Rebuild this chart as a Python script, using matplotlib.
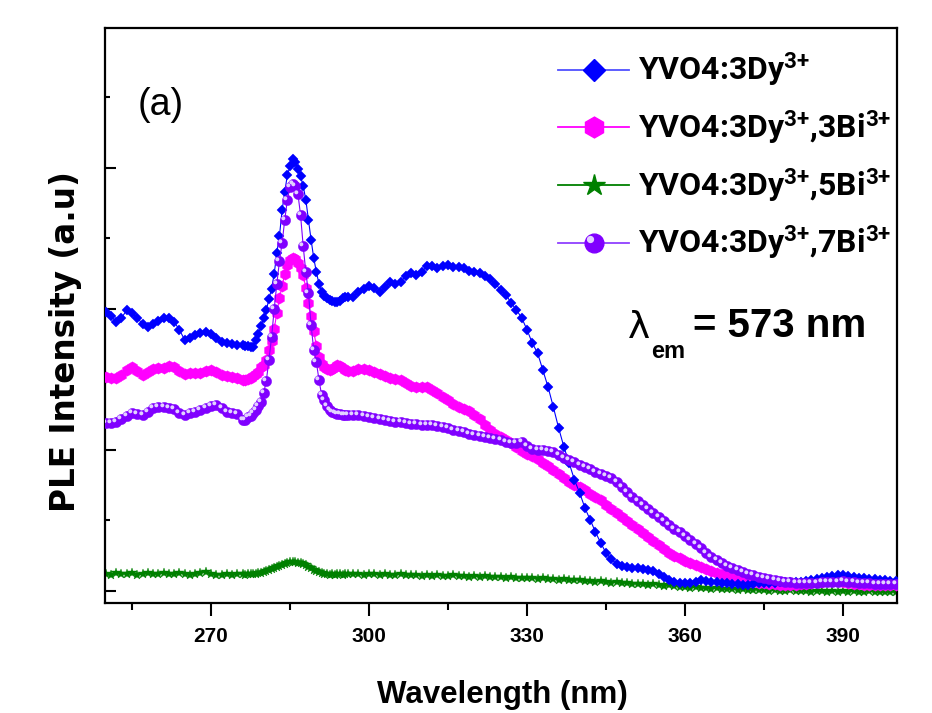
import numpy as np
import matplotlib
matplotlib.use("Agg")
import matplotlib.pyplot as plt
from matplotlib import font_manager as fm
from matplotlib.font_manager import FontProperties
from matplotlib.lines import Line2D
from matplotlib.path import Path
from matplotlib.legend_handler import HandlerTuple
from matplotlib.ticker import FixedLocator

# ---------------- data ----------------
wavelength = np.concatenate([np.arange(250, 276), np.arange(276, 296.5, 0.5), np.arange(297, 401)])

dy3 = [98.9, 97.5, 95.4, 96.8, 99.6, 98.6, 96.8, 94.7, 93.6, 94.7, 95.7, 96.8, 96.8, 95.4, 92.6, 89.0,
       89.7, 90.8, 91.5, 91.8, 91.1, 89.7, 88.3, 87.9, 87.6, 87.2,
       87.2, 87.0, 86.9, 86.6, 86.5, 89.0, 91.1, 94.0, 96.8, 99.6,
       103.5, 107.2, 112.5, 120.0, 126.0, 135.0, 141.5, 147.5, 150.5, 153.0,
       152.0, 149.5, 147.0, 143.6, 138.7, 131.6, 124.5, 118.1, 113.1, 108.9,
       106.0, 104.6, 103.9, 103.2, 102.8, 102.5, 102.5, 102.8, 103.9, 104.3, 104.3,
       104.3, 106.0, 107.1, 108.2, 107.4, 106.0, 107.8, 109.6, 108.9, 109.6,
       111.7, 112.8, 112.1, 113.1, 115.2, 115.2, 114.5, 115.2, 115.6, 114.9,
       114.9, 114.5, 113.5, 113.1, 112.8, 111.7, 110.6, 108.9, 106.7, 105.0,
       102.1, 99.6, 96.8, 92.6, 87.9, 84.4, 78.4, 72.3, 65.2, 57.8,
       51.1, 45.4, 39.4, 34.8, 29.4, 25.2, 20.9, 17.0, 13.5, 11.3,
       9.6, 8.9, 8.5, 8.2, 8.2, 7.8, 7.4, 7.1, 6.0, 5.0,
       3.9, 3.2, 2.8, 2.8, 2.8, 3.2, 3.9, 3.5, 3.2, 3.2,
       2.8, 2.8, 2.5, 2.5, 2.1, 2.1, 2.5, 2.8, 2.8, 2.8,
       2.8, 3.2, 3.2, 3.2, 3.2, 3.2, 3.5, 3.9, 4.3, 4.6,
       5.0, 5.3, 5.7, 5.7, 5.3, 5.0, 4.6, 4.6, 4.3, 4.3,
       3.9, 3.9, 3.5, 3.5]

dy3_bi3 = [75.9, 75.5, 75.5, 76.6, 78.4, 79.4, 78.0, 76.6, 77.7, 78.7, 79.1, 79.1, 79.8, 79.4, 78.0, 77.0,
           77.3, 77.3, 77.3, 78.0, 78.4, 77.7, 76.6, 76.2, 75.9, 75.5,
           74.8, 74.8, 75.2, 75.5, 76.2, 77.0, 77.7, 79.4, 80.2, 82.0,
           85.5, 88.5, 93.0, 98.5, 104.0, 108.0, 112.5, 115.5, 117.5, 118.1,
           117.7, 116.3, 114.5, 112.0, 107.5, 102.0, 97.5, 92.0, 87.0, 83.0,
           80.5, 79.5, 78.8, 78.5, 78.7, 79.4, 80.1, 79.8, 79.1, 78.4, 78.0,
           78.0, 78.7, 78.7, 78.4, 77.7, 77.0, 76.2, 75.5, 75.2, 74.8,
           73.8, 72.7, 72.3, 72.3, 72.3, 71.3, 70.2, 68.8, 67.7, 66.3,
           65.2, 64.5, 63.8, 62.4, 61.0, 58.9, 57.1, 55.7, 54.6, 53.5,
           52.5, 51.1, 49.6, 48.6, 47.9, 46.8, 45.4, 44.3, 42.9, 41.5,
           40.1, 38.7, 37.6, 36.9, 35.8, 34.4, 33.3, 32.3, 30.5, 29.1,
           27.7, 26.2, 24.8, 23.4, 22.0, 20.6, 19.1, 17.7, 16.3, 14.9,
           13.5, 12.4, 11.7, 10.6, 9.9, 9.2, 8.5, 7.8, 7.1, 6.4,
           6.0, 5.3, 5.0, 4.3, 3.9, 3.5, 3.2, 2.8, 2.8,
           2.5, 2.5, 2.1, 2.1, 2.1, 2.1, 2.5, 2.5, 2.8, 3.2,
           3.2, 3.5, 3.5, 3.5, 3.2, 2.8, 2.5, 2.5, 2.1, 2.1,
           2.1, 2.1, 2.1, 2.1, 2.1]

dy3_bi5 = [6.0, 5.7, 6.4, 6.0, 6.0, 6.4, 5.7, 6.0, 6.4, 6.0, 6.0, 6.4, 6.0, 6.0, 6.4, 6.0,
           5.7, 6.0, 6.4, 6.7, 6.0, 5.7, 5.7, 6.0, 5.7, 6.0,
           6.0, 5.7, 6.0, 6.0, 6.0, 6.0, 6.4, 6.4, 6.7, 7.1,
           7.4, 7.8, 8.2, 8.5, 8.9, 9.2, 9.6, 9.9, 10.3, 10.3,
           10.3, 9.9, 9.9, 9.6, 9.2, 8.5, 8.2, 7.4, 7.1, 6.7,
           6.4, 6.0, 6.0, 5.7, 6.0, 5.7, 6.0, 6.0, 5.7, 6.0, 6.0,
           6.0, 6.0, 5.7, 6.0, 6.0, 5.7, 6.0, 5.7, 5.7, 6.0, 5.7, 5.7, 5.7, 5.3,
           5.7, 5.3, 5.7, 5.3, 5.3, 5.7, 5.3, 5.3, 5.0, 5.3,
           5.0, 5.3, 5.0, 5.0, 5.0, 4.6, 5.0, 4.6, 4.6, 4.6,
           4.6, 4.3, 4.6, 4.3, 4.3, 3.9, 4.3, 3.9, 3.9, 3.9,
           3.5, 3.5, 3.2, 3.5, 3.2, 2.8, 3.2, 2.8, 2.8, 2.5,
           2.5, 2.5, 2.1, 2.5, 2.1, 1.8, 2.1, 1.8, 1.4, 1.4,
           1.1, 1.4, 1.1, 1.1, 0.7, 1.1, 0.7, 0.7, 0.7, 0.4,
           0.7, 0.4, 0.4, 0.4, 0.4, 0.0, 0.4, 0.0, 0.0, 0.4,
           0.0, 0.0, 0.0, -0.4, 0.0, 0.0, -0.4, 0.0, -0.4, 0.0,
           -0.4, 0.0, -0.4, -0.4, 0.0, -0.4, -0.4, -0.4, -0.4, -0.4]

dy3_bi7 = [59.6, 59.6, 59.9, 61.0, 62.1, 63.1, 62.8, 62.4, 63.5, 64.9, 65.2, 65.2, 64.9, 64.5, 63.1, 62.4,
           63.1, 63.5, 64.2, 64.9, 65.6, 66.0, 64.9, 63.5, 63.1, 62.8,
           60.6, 60.6, 61.7, 62.1, 63.1, 64.2, 65.6, 67.0, 70.2, 74.5,
           82.0, 90.0, 100.0, 109.0, 117.0, 123.4, 131.6, 138.7, 143.3, 144.3,
           143.6, 140.8, 133.3, 122.3, 113.1, 105.7, 94.3, 85.5, 81.2, 74.8,
           69.5, 67.7, 65.6, 64.2, 63.5, 63.1, 62.8, 62.8, 62.4, 62.4, 62.4,
           62.4, 62.4, 62.1, 61.7, 61.3, 61.0, 60.6, 60.3, 59.9, 59.9,
           59.6, 59.2, 59.2, 58.9, 58.9, 58.9, 58.5, 58.2, 57.8, 57.1,
           56.7, 56.4, 55.7, 55.3, 55.0, 54.6, 54.3, 53.9, 53.5, 52.8,
           52.5, 52.5, 52.8, 51.4, 50.4, 50.0, 50.0, 49.6, 49.3, 48.2,
           47.2, 46.5, 45.7, 44.7, 44.0, 43.3, 42.2, 41.5, 40.8, 40.1,
           38.7, 36.9, 35.1, 33.3, 31.9, 30.5, 29.1, 27.7, 26.2, 24.8,
           23.4, 22.0, 20.9, 19.5, 18.1, 16.7, 15.2, 13.5, 12.1, 11.0,
           9.9, 8.9, 8.2, 7.4, 6.7, 6.0, 5.7, 5.0, 4.6, 4.3,
           3.9, 3.5, 3.2, 3.2,
           2.8, 2.8, 2.8, 2.8, 2.8, 3.2, 3.2, 3.2, 3.2, 3.5,
           3.2, 3.2, 2.8, 2.8, 2.8, 2.5, 2.5, 2.5, 2.5, 2.5]

labels = [r'YVO4:3Dy$^{3{+}}$',
          r'YVO4:3Dy$^{3{+}}$,3Bi$^{3{+}}$',
          r'YVO4:3Dy$^{3{+}}$,5Bi$^{3{+}}$',
          r'YVO4:3Dy$^{3{+}}$,7Bi$^{3{+}}$']
x_major = [270, 300, 330, 360, 390]
x_minor = [255, 285, 315, 345, 375]
x_ticklabels = ['270', '300', '330', '360', '390']
y_major = [0, 50, 100, 150]
y_minor = [25, 75, 125, 175]

# ---------------- fonts ----------------
avail = {f.name for f in fm.fontManager.ttflist}
NARROW = 'Liberation Sans Narrow' in avail
if NARROW:
    lfam, lsize, lspace = 'Liberation Sans Narrow', 27, 0.3
elif 'Roboto' in avail:
    lfam, lsize, lspace = 'Roboto', 23, 0.6
else:
    lfam, lsize, lspace = 'Liberation Sans', 20.8, 0.75
tfam = 'Liberation Sans Narrow' if NARROW else 'Liberation Sans'

plt.rcParams['mathtext.fontset'] = 'custom'
plt.rcParams['mathtext.rm'] = lfam + ':bold'
plt.rcParams['mathtext.bf'] = lfam + ':bold'
plt.rcParams['mathtext.it'] = lfam + ':bold'
plt.rcParams['mathtext.default'] = 'bf'

W, H = 932, 713
fig = plt.figure(figsize=(W / 100, H / 100), dpi=100)
ax = fig.add_axes([105 / W, 1 - 603 / H, 792 / W, 575 / H])

BLUE = '#0000ff'
MAG = '#ff00ff'
GREEN = '#008000'
PURP = '#8000ff'
HL = '#e2d2ff'

# highlight marker: small circle offset to upper left (glossy sphere look)
t = np.linspace(0, 2 * np.pi, 40)
hl_path = Path(np.column_stack([-0.22 + 0.2 * np.cos(t), 0.22 + 0.2 * np.sin(t)]))

ax.plot(wavelength, dy3_bi5, color=GREEN, lw=0.8, marker='*', ms=7.5, mec=GREEN, mfc=GREEN, mew=0.3, zorder=2)
ax.plot(wavelength, dy3_bi3, color=MAG, lw=0.8, marker='h', ms=8.2, mec=MAG, mfc=MAG, mew=0.3, zorder=3)
ax.plot(wavelength, dy3, color=BLUE, lw=0.8, marker='D', ms=5.6, mec=BLUE, mfc=BLUE, mew=0.3, zorder=4)
ax.plot(wavelength, dy3_bi7, color=PURP, lw=0.8, marker='o', ms=7.4, mec=PURP, mfc=PURP, mew=0.3, zorder=5)
ax.plot(wavelength, dy3_bi7, ls='none', marker=hl_path, ms=6, mec='none', mfc=HL, zorder=6)

ax.set_xlim(249.87, 400.25)
ax.set_ylim(-4.26, 199.6)

for s in ax.spines.values():
    s.set_linewidth(1.6)

ax.xaxis.set_major_locator(FixedLocator(x_major))
ax.xaxis.set_minor_locator(FixedLocator(x_minor))
ax.yaxis.set_major_locator(FixedLocator(y_major))
ax.yaxis.set_minor_locator(FixedLocator(y_minor))
tick_fp = FontProperties(family=tfam, weight='bold', size=17 if NARROW else 15)
ax.set_xticks(x_major)
ax.set_xticklabels(x_ticklabels, fontproperties=tick_fp)
ax.tick_params(axis='x', which='major', direction='out', length=9.5, width=1.5, pad=7.5, top=False)
ax.tick_params(axis='x', which='minor', direction='out', length=5, width=1.5, top=False)
ax.tick_params(axis='y', which='major', direction='in', length=8, width=1.5, labelleft=False, right=False)
ax.tick_params(axis='y', which='minor', direction='in', length=3.6, width=1.5, right=False)

ax.set_xlabel('Wavelength (nm)', fontfamily='Liberation Sans', fontweight='bold', fontsize=22.5)
ax.xaxis.label.set_va('baseline')
ax.xaxis.set_label_coords(0.502, -0.174)
ax.set_ylabel('PLE Intensity (a.u)', fontfamily='DejaVu Sans', fontweight='bold', fontsize=23.5)
ax.yaxis.label.set_va('center')
ax.yaxis.set_label_coords(-0.0505, 0.455)

# annotations
fig.text(161 / W, 1 - 115 / H, '(a)', family='Liberation Sans', size=27, ha='center', va='baseline')
fig.text(628 / W, 1 - 338 / H, 'λ', family='DejaVu Sans', size=27, ha='left', va='baseline')
fig.text(651 / W, 1 - 358 / H, 'em', family='Liberation Sans', weight='bold', size=17, ha='left', va='baseline')
fig.text(693 / W, 1 - 337 / H, '= 573 nm', family='Liberation Sans', weight='bold', size=29, ha='left', va='baseline')

# legend
h_blue = Line2D([], [], color='#5050ff', lw=1.3, marker='D', ms=11, mfc=BLUE, mec=BLUE)
h_mag = Line2D([], [], color=MAG, lw=1.3, marker='h', ms=15, mfc=MAG, mec=MAG)
h_green = Line2D([], [], color=GREEN, lw=1.3, marker='*', ms=16, mfc=GREEN, mec=GREEN)
h_purp = Line2D([], [], color='#9040ff', lw=1.3, marker='o', ms=13.5, mfc=PURP, mec=PURP)
h_hl = Line2D([], [], ls='none', marker=hl_path, ms=11, mfc=HL, mec='none')
leg_fp = FontProperties(family=lfam, weight='bold', size=lsize)
hl_len = 71 * 72 / 100 / lsize
leg = ax.legend([h_blue, h_mag, h_green, (h_purp, h_hl)], labels,
                handler_map={tuple: HandlerTuple(ndivide=1)},
                loc='upper left', bbox_to_anchor=(558 / W, 1 - 51 / H), bbox_transform=fig.transFigure,
                frameon=False, prop=leg_fp, handlelength=hl_len,
                handletextpad=9 * 72 / 100 / lsize, labelspacing=lspace,
                borderpad=0, borderaxespad=0)

fig.savefig('out.png', dpi=100)
